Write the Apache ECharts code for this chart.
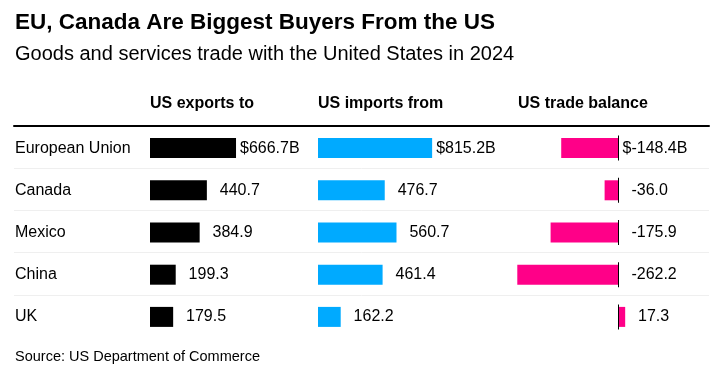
<!DOCTYPE html>
<html>
<head>
<meta charset="utf-8">
<script src="https://cdn.jsdelivr.net/npm/echarts@6/dist/echarts.min.js"></script>
<style>
html,body{margin:0;padding:0;background:#fff;}
#chart{width:728px;height:372px;}
</style>
</head>
<body>
<div id="chart"></div>
<script>
const countries = ['European Union', 'Canada', 'Mexico', 'China', 'UK'];
const exportsTo = [666.7, 440.7, 384.9, 199.3, 179.5];
const importsFrom = [815.2, 476.7, 560.7, 461.4, 162.2];
const tradeBalance = [-148.4, -36.0, -175.9, -262.2, 17.3];
const columnHeaders = ['US exports to', 'US imports from', 'US trade balance'];
const titleText = 'EU, Canada Are Biggest Buyers From the US';
const subtitleText = 'Goods and services trade with the United States in 2024';
const sourceText = 'Source: US Department of Commerce';

const FONT = '"Liberation Sans", Arial, Helvetica, sans-serif';
const BLACK = '#000000';
const BLUE = '#00aaff';
const PINK = '#ff0088';

function fmt(v, i) {
  const s = v.toFixed(1);
  return i === 0 ? '$' + s + 'B' : '{h|$}' + s;
}
const valueLabel = {
  show: true,
  position: 'right',
  distance: 4,
  color: '#000',
  fontSize: 16,
  fontFamily: FONT,
  textBorderWidth: 0,
  rich: { h: { color: 'transparent', fontSize: 16, fontFamily: FONT } }
};

const chart = echarts.init(document.getElementById('chart'), null, { renderer: 'canvas' });

const catAxis = (gi, showLabels) => ({
  type: 'category', gridIndex: gi, data: countries, inverse: true,
  axisLine: { show: false }, axisTick: { show: false }, splitLine: { show: false },
  axisLabel: showLabels ? {
    show: true, align: 'left', margin: 135, fontSize: 16, color: '#000', fontFamily: FONT
  } : { show: false }
});
const valAxis = (gi, min, max) => ({
  type: 'value', gridIndex: gi, min: min, max: max,
  axisLine: { show: false }, axisTick: { show: false }, axisLabel: { show: false }, splitLine: { show: false }
});

const headerLeft = [150, 318, 518];

chart.setOption({
  animation: false,
  backgroundColor: '#fff',
  title: [
    { text: titleText, left: 15, top: 11, padding: 0, textStyle: { fontSize: 22.5, fontWeight: 'bold', color: '#000', fontFamily: FONT, lineHeight: 24 } },
    { text: subtitleText, left: 15, top: 44.8, padding: 0, textStyle: { fontSize: 20, fontWeight: 'normal', color: '#000', fontFamily: FONT, lineHeight: 20 } },
    { text: sourceText, left: 15, top: 349, padding: 0, textStyle: { fontSize: 14.5, fontWeight: 'normal', color: '#000', fontFamily: FONT, lineHeight: 16 } }
  ].concat(columnHeaders.map((h, i) => ({
    text: h, left: headerLeft[i], top: 95, padding: 0,
    textStyle: { fontSize: 16, fontWeight: 'bold', color: '#000', fontFamily: FONT, lineHeight: 18 }
  }))),
  grid: [
    { left: 150, width: 100, top: 127, height: 211 },
    { left: 318, width: 140, top: 127, height: 211 },
    { left: 502.7, width: 154.4, top: 127, height: 211 },
    { left: 14, width: 695, top: 126, height: 211 }
  ],
  xAxis: [
    valAxis(0, 0, 775),
    valAxis(1, 0, 1000),
    valAxis(2, -300, 100),
    {
      type: 'value', gridIndex: 3, min: 0, max: 1, position: 'top', offset: 1,
      axisLine: { show: true, lineStyle: { color: '#000', width: 2 } },
      axisTick: { show: false }, axisLabel: { show: false }, splitLine: { show: false }
    }
  ],
  yAxis: [
    catAxis(0, true),
    catAxis(1, false),
    catAxis(2, false),
    {
      type: 'value', gridIndex: 3, min: 0, max: 5, interval: 1, inverse: true,
      axisLine: { show: false }, axisTick: { show: false }, axisLabel: { show: false },
      splitLine: { show: true, showMinLine: false, showMaxLine: false, lineStyle: { color: '#efefef', width: 1 } }
    }
  ],
  series: [
    {
      type: 'bar', xAxisIndex: 0, yAxisIndex: 0, data: exportsTo, barWidth: 20,
      itemStyle: { color: BLACK },
      label: Object.assign({}, valueLabel, { formatter: p => fmt(p.value, p.dataIndex) })
    },
    {
      type: 'bar', xAxisIndex: 1, yAxisIndex: 1, data: importsFrom, barWidth: 20,
      itemStyle: { color: BLUE },
      label: Object.assign({}, valueLabel, { formatter: p => fmt(p.value, p.dataIndex) })
    },
    {
      type: 'bar', xAxisIndex: 2, yAxisIndex: 2, data: tradeBalance, barWidth: 20,
      itemStyle: { color: PINK }
    },
    {
      type: 'scatter', xAxisIndex: 2, yAxisIndex: 2, symbol: 'rect', symbolSize: [1, 25],
      data: countries.map((c, i) => [0, i]), itemStyle: { color: '#000', opacity: 1 }, z: 5, silent: true
    },
    {
      type: 'scatter', xAxisIndex: 2, yAxisIndex: 2, symbolSize: 0,
      data: tradeBalance.map((v, i) => ({ value: [Math.max(0, v), i], raw: v })),
      itemStyle: { color: 'transparent', opacity: 1 }, silent: true,
      label: Object.assign({}, valueLabel, { formatter: p => fmt(p.data.raw, p.dataIndex) })
    }
  ]
});
</script>
</body>
</html>
